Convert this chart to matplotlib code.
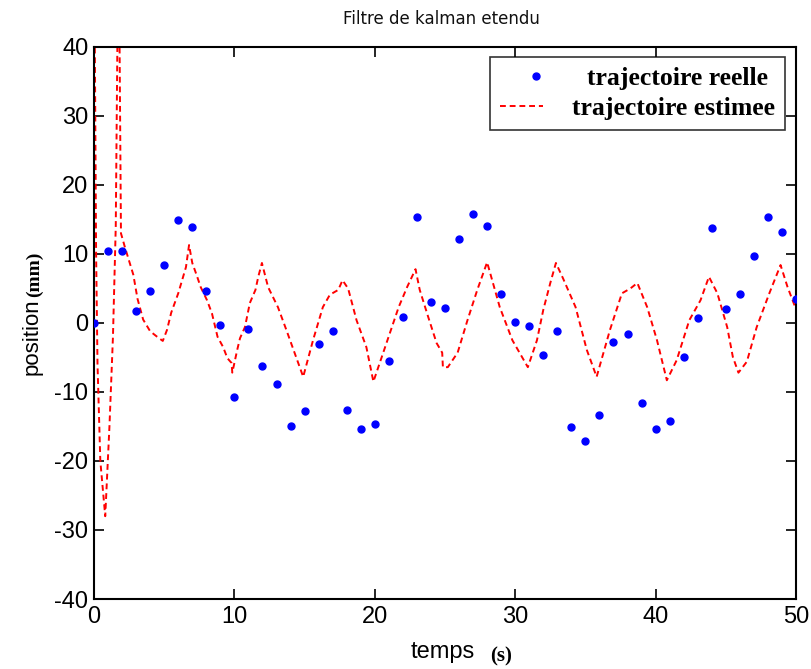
import matplotlib
matplotlib.use("Agg")
import matplotlib.pyplot as plt

plt.rcParams["axes.unicode_minus"] = False

# ---------------- data ----------------
t_real = list(range(0, 51))
y_real = [0.0, 10.4, 10.4, 1.7, 4.6, 8.4, 14.9, 13.9, 4.6, -0.3,
          -10.7, -0.9, -6.2, -8.8, -14.9, -12.8, -3.0, -1.2, -12.6, -15.4,
          -14.6, -5.5, 0.9, 15.4, 3.0, 2.2, 12.2, 15.8, 14.1, 4.2,
          0.1, -0.4, -4.6, -1.2, -15.1, -17.1, -13.3, -2.8, -1.6, -11.6,
          -15.4, -14.2, -4.9, 0.7, 13.8, 2.0, 4.2, 9.7, 15.4, 13.2,
          3.5]

t_est = [0.0, 0.15, 0.25, 0.45, 0.8, 1.1, 1.35, 1.55, 1.75, 1.92,
         2.2, 2.8, 3.1, 3.5, 4.0, 4.5, 4.9, 5.2, 5.5, 6.0,
         6.55, 6.77, 7.0, 7.3, 7.6, 8.05, 8.4, 8.8, 9.2, 9.5,
         9.8, 9.85, 10.2, 10.4, 10.75, 11.1, 11.5, 11.7, 11.96, 12.4,
         13.1, 13.7, 14.9, 15.6, 16.3, 16.8, 17.4, 17.7, 18.1, 18.7,
         19.4, 19.9, 20.6, 21.7, 22.3, 22.9, 23.2, 23.8, 24.4, 24.8,
         24.85, 25.2, 25.9, 26.6, 27.3, 28.0, 28.9, 29.8, 30.9, 31.55,
         32.0, 32.5, 32.9, 33.4, 34.3, 35.1, 35.8, 36.75, 37.6, 38.2,
         38.7, 39.4, 40.1, 40.8, 41.5, 42.4, 43.2, 43.8, 44.4, 45.1,
         45.5, 45.9, 46.5, 47.2, 48.1, 48.9, 49.4, 50.0]
y_est = [60.0, 10.0, -6.0, -20.0, -28.0, -15.0, -2.0, 14.0, 60.0, 13.0,
         11.0, 7.0, 3.5, 0.5, -1.2, -2.0, -2.6, -1.0, 1.5, 4.3,
         8.1, 11.3, 8.7, 7.0, 5.2, 3.3, 1.4, -2.0, -3.5, -5.1,
         -5.8, -7.2, -3.9, -2.2, -0.6, 2.9, 4.8, 6.7, 8.7, 5.2,
         2.3, -1.0, -7.8, -2.5, 2.3, 4.1, 4.8, 6.2, 5.0, 0.4,
         -3.5, -8.5, -4.3, 2.3, 5.2, 7.8, 4.8, 0.9, -2.9, -4.3,
         -6.4, -6.4, -4.3, 0.4, 4.8, 8.8, 2.3, -2.5, -6.4, -2.5,
         1.9, 5.8, 8.7, 6.5, 2.3, -3.9, -7.8, -1.0, 4.3, 5.0,
         5.8, 2.3, -2.5, -8.3, -5.4, 0.4, 3.3, 6.7, 4.3, -0.6,
         -4.9, -7.2, -5.6, -0.6, 4.3, 8.4, 5.2, 2.0]

x_ticks = [0, 10, 20, 30, 40, 50]
y_ticks = [-40, -30, -20, -10, 0, 10, 20, 30, 40]

title_text = "Filtre de kalman etendu"
legend_labels = ["trajectoire reelle", "trajectoire estimee"]

sans = "Liberation Sans"
serif = "Liberation Serif"

# ---------------- figure ----------------
fig = plt.figure(figsize=(8.11, 6.69), dpi=100)
ax = fig.add_axes([94 / 811, 1 - 599 / 669, (796 - 94) / 811, (599 - 47) / 669])

ax.plot(t_real, y_real, linestyle="none", marker="o", markersize=5,
        color="#0000ff", label=legend_labels[0], zorder=3)
ax.plot(t_est, y_est, linestyle=(0, (3, 2)), linewidth=1.4, color="#ff0000",
        label=legend_labels[1], zorder=2)

ax.set_xlim(0, 50)
ax.set_ylim(-40, 40)
ax.set_xticks(x_ticks)
ax.set_yticks(y_ticks)
ax.tick_params(axis="both", direction="in", top=True, right=True, length=7,
               width=1.2, labelsize=17)
ax.tick_params(axis="x", pad=5)
ax.tick_params(axis="y", pad=4)
for lab in ax.get_xticklabels() + ax.get_yticklabels():
    lab.set_fontfamily(sans)
for s in ax.spines.values():
    s.set_linewidth(1.5)
    s.set_color("black")

fig.text(441 / 811, 1 - 19 / 669, title_text, ha="center", va="center",
         fontsize=12, family="DejaVu Sans", color="#111111")

# x label
fig.text(443 / 811, 1 - 652 / 669, "temps", ha="center", va="center",
         fontsize=17, family=sans)
fig.text(501 / 811, 1 - 656 / 669, "(s)", ha="center", va="center",
         fontsize=15, family=serif, fontweight="bold")
# y label
fig.text(32 / 811, 1 - 337 / 669, "position", ha="center", va="center",
         rotation=90, fontsize=16, family=sans)
fig.text(34 / 811, 1 - 274 / 669, "(mm)", ha="center", va="center",
         rotation=90, fontsize=14, family=serif, fontweight="bold")

leg = ax.legend(loc="upper right", bbox_to_anchor=(1 - 11 / 702, 1 - 10 / 552),
                prop={"family": serif, "weight": "bold", "size": 18.5},
                frameon=True, fancybox=False, edgecolor="black",
                borderpad=0.4, labelspacing=0.25, handlelength=1.7,
                handletextpad=1.1, borderaxespad=0.0)
leg.get_frame().set_linewidth(1.2)
# first label sits further right, as in the reference legend
leg.get_texts()[0].set_x(15)
# marker drawn near the right end of its handle area, as in the reference
mk = leg.legend_handles[0]
mk.set_xdata([x + 10 for x in mk.get_xdata()])

fig.savefig("out.png", dpi=100, facecolor="white")
